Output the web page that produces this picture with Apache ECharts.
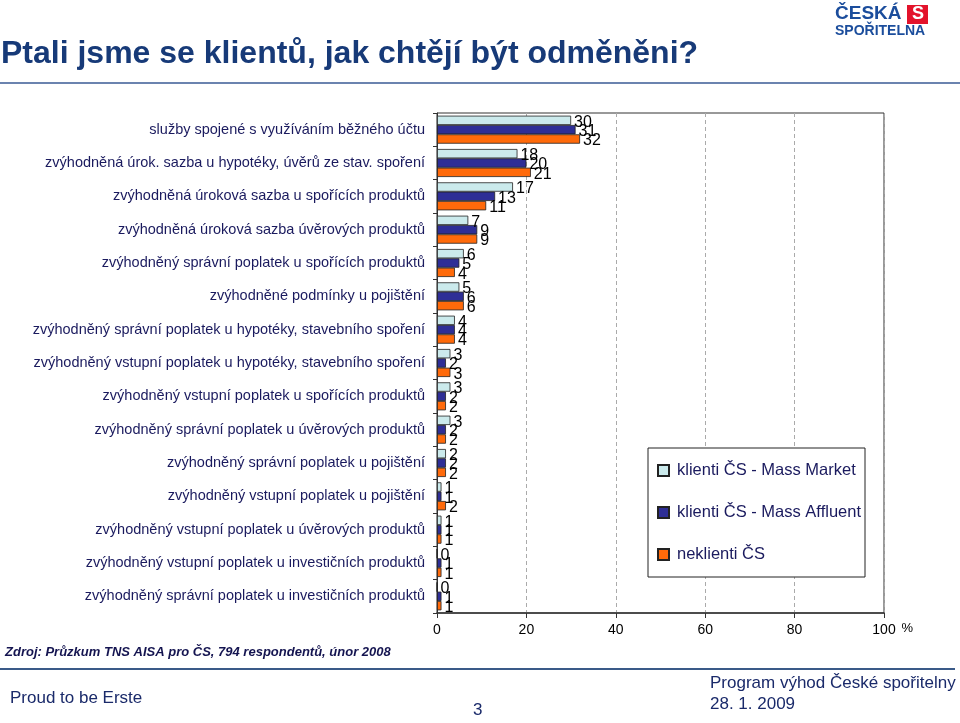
<!DOCTYPE html>
<html>
<head>
<meta charset="utf-8">
<script src="https://cdn.jsdelivr.net/npm/echarts@6/dist/echarts.min.js"></script>
<style>html,body{margin:0;padding:0;background:#fff}#c{width:960px;height:723px}</style>
</head>
<body>
<div id="c"></div>
<script>
const categories = [
  "služby spojené s využíváním běžného účtu",
  "zvýhodněná úrok. sazba u hypotéky, úvěrů ze stav. spoření",
  "zvýhodněná úroková sazba u spořících produktů",
  "zvýhodněná úroková sazba úvěrových produktů",
  "zvýhodněný správní poplatek u spořících produktů",
  "zvýhodněné podmínky u pojištění",
  "zvýhodněný správní poplatek u hypotéky, stavebního spoření",
  "zvýhodněný vstupní poplatek u hypotéky, stavebního spoření",
  "zvýhodněný vstupní poplatek u spořících produktů",
  "zvýhodněný správní poplatek u úvěrových produktů",
  "zvýhodněný správní poplatek u pojištění",
  "zvýhodněný vstupní poplatek u pojištění",
  "zvýhodněný vstupní poplatek u úvěrových produktů",
  "zvýhodněný vstupní poplatek u investičních produktů",
  "zvýhodněný správní poplatek u investičních produktů"
];
const seriesNames = ["klienti ČS - Mass Market", "klienti ČS - Mass Affluent", "neklienti ČS"];
const massMarket   = [30, 18, 17, 7, 6, 5, 4, 3, 3, 3, 2, 1, 1, 0, 0];
const massAffluent = [31, 20, 13, 9, 5, 6, 4, 2, 2, 2, 2, 1, 1, 1, 1];
const neklienti    = [32, 21, 11, 9, 4, 6, 4, 3, 2, 2, 2, 2, 1, 1, 1];
const xTicks = [0, 20, 40, 60, 80, 100];

const colors = ["#cbeaec", "#2e2e96", "#ff6a0a"];
const seriesData = [massMarket, massAffluent, neklienti];
const FONT = "'Liberation Sans', Arial, sans-serif";

const chart = echarts.init(document.getElementById('c'), null, {renderer: 'canvas'});
const option = {
  backgroundColor: '#fff',
  animation: false,
  textStyle: {fontFamily: FONT},
  grid: {left: 437, right: 76, top: 113, bottom: 110, show: true, borderColor: '#333', borderWidth: 1, containLabel: false},
  legend: {
    orient: 'vertical', left: 648, top: 448,
    itemWidth: 11, itemHeight: 11, itemGap: 25,
    padding: [14, 4, 14, 9],
    borderColor: '#222', borderWidth: 1, backgroundColor: '#fff',
    textStyle: {fontSize: 16.5, color: '#1a1a5e', fontFamily: FONT, padding: [0, 0, 0, 3]},
    icon: 'rect',
    data: seriesNames
  },
  xAxis: {
    type: 'value', min: 0, max: 100, interval: 20,
    name: '%', nameLocation: 'end', nameGap: 8,
    nameTextStyle: {fontSize: 13, color: '#000', verticalAlign: 'bottom', padding: [0, 0, -22, 0]},
    axisLine: {show: true, lineStyle: {color: '#333', width: 1.5}},
    axisTick: {show: true, length: 5, lineStyle: {color: '#333'}},
    axisLabel: {fontSize: 14, color: '#000', margin: 10, formatter: v => xTicks.includes(v) ? String(v) : ''},
    splitLine: {show: true, lineStyle: {color: '#aaa', type: [4, 3], width: 1}}
  },
  yAxis: {
    type: 'category', inverse: true, data: categories,
    axisLine: {show: true, lineStyle: {color: '#333', width: 1}},
    axisTick: {show: true, length: 4, inside: false, lineStyle: {color: '#333'}},
    axisLabel: {fontSize: 14.5, color: '#1a1a5e', margin: 12, fontFamily: FONT}
  },
  series: seriesData.map((d, i) => ({
    name: seriesNames[i], type: 'bar', data: d,
    barGap: '0%', barCategoryGap: '16%',
    itemStyle: {color: colors[i], borderColor: '#222', borderWidth: 0.8},
    label: {show: true, position: 'right', distance: 3, fontSize: 16, color: '#000', fontFamily: FONT, offset: [0, 2]}
  })),
  graphic: [
    {type: 'text', left: 1, top: 38, style: {text: 'Ptali jsme se klientů, jak chtějí být odměněni?', font: "bold 32px " + FONT, fill: '#173a78'}},
    {type: 'line', shape: {x1: 0, y1: 83, x2: 960, y2: 83}, style: {stroke: '#3a5a94', lineWidth: 1.5}},
    {type: 'text', left: 835, top: 4, style: {text: 'ČESKÁ', font: "bold 19px " + FONT, fill: '#1b4d9c'}},
    {type: 'text', left: 835, top: 24, style: {text: 'SPOŘITELNA', font: "bold 14px " + FONT, fill: '#1b4d9c'}},
    {type: 'rect', shape: {x: 907, y: 5, width: 21, height: 19}, style: {fill: '#e3132b'}},
    {type: 'text', left: 912, top: 5, style: {text: 'S', font: "bold 18px " + FONT, fill: '#fff'}},
    {type: 'text', left: 5, top: 646, style: {text: 'Zdroj: Průzkum TNS AISA pro ČS, 794 respondentů, únor 2008', font: "italic bold 13px " + FONT, fill: '#141450'}},
    {type: 'line', shape: {x1: 0, y1: 669, x2: 955, y2: 669}, style: {stroke: '#3a5a88', lineWidth: 2}},
    {type: 'text', left: 10, top: 690, style: {text: 'Proud to be Erste', font: "17px " + FONT, fill: '#1a2a6a'}},
    {type: 'text', left: 473, top: 702, style: {text: '3', font: "17px " + FONT, fill: '#1a2a6a'}},
    {type: 'text', left: 710, top: 675, style: {text: 'Program výhod České spořitelny', font: "17px " + FONT, fill: '#1a2a6a'}},
    {type: 'text', left: 710, top: 696, style: {text: '28. 1. 2009', font: "17px " + FONT, fill: '#1a2a6a'}}
  ]
};
chart.setOption(option);
</script>
</body>
</html>
